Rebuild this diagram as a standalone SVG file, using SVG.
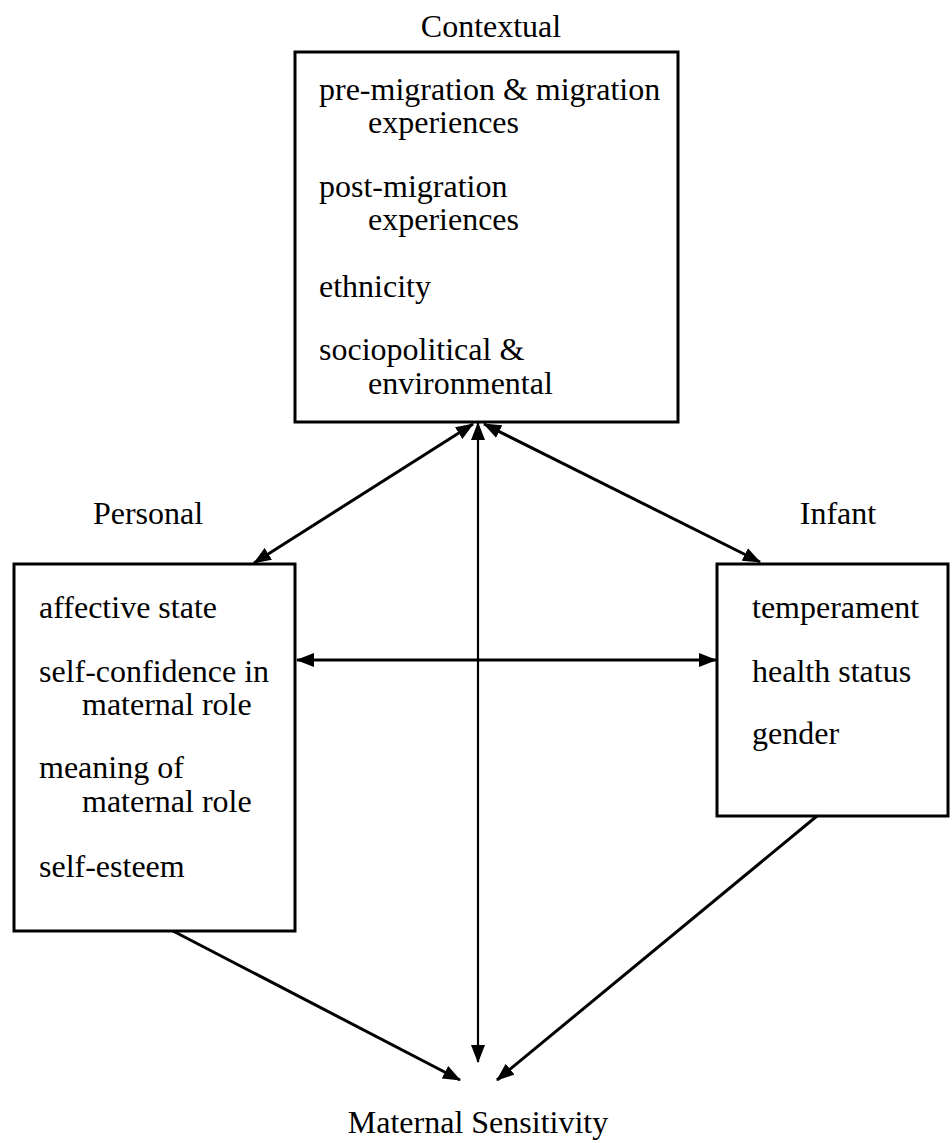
<svg xmlns="http://www.w3.org/2000/svg" width="952" height="1143" viewBox="0 0 952 1143">
<style>
text{font-family:"Liberation Serif","Times New Roman",serif;font-size:32px;fill:#000}
.box{fill:#fff;stroke:#000;stroke-width:3}
.ln{stroke:#000;stroke-width:3;fill:none}
.thin{stroke:#000;stroke-width:2.2;fill:none}
</style>
<defs>
<marker id="ah" markerUnits="userSpaceOnUse" markerWidth="18" markerHeight="14" refX="17" refY="7" orient="auto-start-reverse" viewBox="0 0 18 14">
<path d="M0,0 L18,7 L0,14 Z" fill="#000"/>
</marker>
</defs>
<rect width="952" height="1143" fill="#fff"/>
<g id="contextual">
<text x="491" y="37" text-anchor="middle">Contextual</text>
<rect class="box" x="295" y="52" width="383" height="370"/>
<text x="319" y="100">pre-migration &amp; migration</text>
<text x="368" y="133">experiences</text>
<text x="319" y="197">post-migration</text>
<text x="368" y="230">experiences</text>
<text x="319" y="297">ethnicity</text>
<text x="319" y="360">sociopolitical &amp;</text>
<text x="368" y="394">environmental</text>
</g>
<g id="personal">
<text x="148" y="524" text-anchor="middle">Personal</text>
<rect class="box" x="14" y="564" width="281" height="367"/>
<text x="39" y="618">affective state</text>
<text x="39" y="682">self-confidence in</text>
<text x="82" y="715">maternal role</text>
<text x="39" y="778">meaning of</text>
<text x="82" y="812">maternal role</text>
<text x="39" y="877">self-esteem</text>
</g>
<g id="infant">
<text x="838" y="524" text-anchor="middle">Infant</text>
<rect class="box" x="717" y="564" width="231" height="252"/>
<text x="752" y="618">temperament</text>
<text x="752" y="682">health status</text>
<text x="752" y="744">gender</text>
</g>
<g id="maternal-sensitivity">
<text x="478" y="1133" text-anchor="middle">Maternal Sensitivity</text>
</g>
<g id="connectors">
<line class="ln" x1="473" y1="424" x2="254" y2="563" marker-start="url(#ah)" marker-end="url(#ah)"/>
<line class="ln" x1="484" y1="424" x2="760" y2="562" marker-start="url(#ah)" marker-end="url(#ah)"/>
<line class="thin" x1="478" y1="423" x2="478" y2="1062" marker-start="url(#ah)" marker-end="url(#ah)"/>
<line class="ln" x1="297" y1="660" x2="716" y2="660" marker-start="url(#ah)" marker-end="url(#ah)"/>
<line class="ln" x1="173" y1="931" x2="460" y2="1080" marker-end="url(#ah)"/>
<line class="ln" x1="817" y1="816" x2="497" y2="1080" marker-end="url(#ah)"/>
</g>
</svg>
